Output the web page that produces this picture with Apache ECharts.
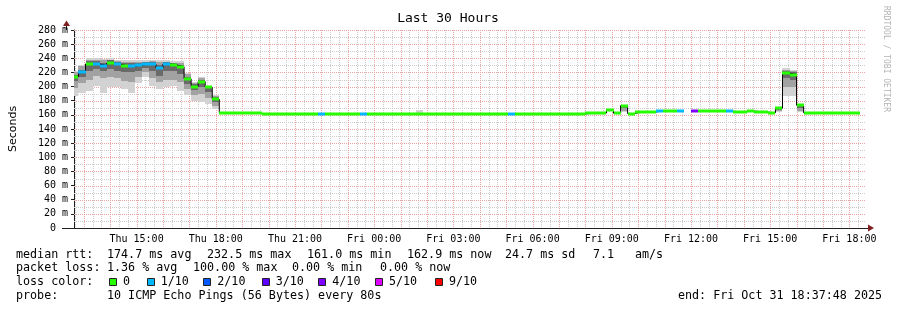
<!DOCTYPE html>
<html>
<head>
<meta charset="utf-8">
<script src="https://cdn.jsdelivr.net/npm/echarts@6/dist/echarts.min.js"></script>
<style>
html,body{margin:0;padding:0;background:#fff;}
#chart{width:897px;height:310px;}
</style>
</head>
<body>
<div id="chart"></div>
<script>
// ---- time frame (minutes since Thu 00:00) ----
const T_START = 757.8;   // Thu 12:37:48
const T_END = 2557.8;    // Fri 18:37:48
const FIRST_BOUNDARY = 768; // Thu 12:48, RRD step boundary
const STEP_MIN = 16;        // RRD step (minutes)

// ---- median rtt per step (ms) ----
const median = [
  214,220.6,232,232,229.5,233,231.5,229,229,230.5,
  232,232,226.7,232,230.5,228,211,200,207,199,
  182,163,163,163,163,163,162,161.3,161.3,161.3,
  161.3,161.3,161.3,161.3,161.3,161.3,161.3,161.3,161.3,161.3,
  161.3,161.3,161.3,161.3,161.3,161.3,161.3,161.3,161.3,161.3,
  161.3,161.3,161.3,161.3,161.3,161.3,161.3,161.3,161.3,161.3,
  161.3,161.3,161.3,161.3,161.3,161.3,161.3,161.3,161.3,161.3,
  161.3,161.3,161.3,162.2,162.2,162.6,167,162.2,173,161.8,
  164,164,164,165.5,165.3,165.3,165.3,null,165.3,165.3,
  165.3,165.3,165.3,165,164.5,164.5,165.3,164.5,163.8,163,
  169.4,219,216.8,173.5,163,163,163,163,163,163,
  163,163
];
// ---- loss index per step (0 = 0/10, 1 = 1/10, ...) ----
const loss = [
  0,1,0,1,1,0,1,0,1,1,
  1,1,1,1,0,0,0,0,0,0,
  0,0,0,0,0,0,0,0,0,0,
  0,0,0,0,0,1,0,0,0,0,
  0,1,0,0,0,0,0,0,0,0,
  0,0,0,0,0,0,0,0,0,0,
  0,0,1,0,0,0,0,0,0,0,
  0,0,0,0,0,0,0,0,0,0,
  0,0,0,1,0,0,1,null,4,0,
  0,0,0,1,0,0,0,0,0,0,
  0,0,0,0,0,0,0,0,0,0,
  0,0
];
// ---- smoke (ping spread) for the steps where it is visible ----
const smokeIdx    = [0,1,2,3,4,5,6,7,8,9,10,11,12,13,14,15,16,17,18,19,20,49,78,98,100,101,102,103];
const smokeMin    = [186,190.5,194,201,191,200,199,196,190.5,205.5,214,200.8,196,199,200.8,194,188,180,178,175,168,161,163.6,163.5,164.5,186.7,186.7,164.5];
const smokeMax    = [222,231,240,240,239,240,238,237,237,237,237,238,238,237,236,236,219.6,207,214,201,188,167,174,166,170.5,225.8,223.4,176];
const smokeLo     = [198,205,210,215,212,213,212,208,207,214,220,212,206,210,210,206,196,188,190,184,172,null,166,null,165.5,200,200,166];
const smokeHi     = [221,229,238,238,237,238,236,235,235,235,235,236,235,235,234,234,218,205,212,200,187,null,173.5,null,170,224,222,175.5];
const smokeDarkLo = [208,214,222,225,222,225,222,220,220,222,226,222,215,222,222,218,204,195,200,192,178,null,170,null,167,212,210,170];
const smokeDarkHi = [217,224,236,236,234,237,235,233,233,234,235,235,231,235,233,231,214,203,210,200,185,null,173.5,null,170,222,220,175];

// ---- axes ----
const labelHours = [15,18,21,24,27,30,33,36,39,42]; // Thu 15:00 ... Fri 18:00
const GRID_MINOR_MIN = 20;  // vertical minor grid every 20 minutes
const GRID_MAJOR_MIN = 60;  // vertical major grid every hour
const Y_MINOR = 10, Y_MAJOR = 20, Y_MAX = 280;

const lossColors = {0:'#26ff00',1:'#00b8ff',2:'#0059ff',3:'#5e00ff',4:'#7e00ff',5:'#dd00ff',9:'#ff0000'};
const lossLegend = [[0,'0'],[1,'1/10'],[2,'2/10'],[3,'3/10'],[4,'4/10'],[5,'5/10'],[9,'9/10']];

const statsRow1 = [['median rtt:',16],['174.7 ms avg',107],['232.5 ms max',207],['161.0 ms min',307],['162.9 ms now',407],['24.7 ms sd',505],['7.1',593],['am/s',635]];
const statsRow2 = [['packet loss:',16],['1.36 % avg',107],['100.00 % max',193],['0.00 % min',292],['0.00 % now',380]];
const probeText = '10 ICMP Echo Pings (56 Bytes) every 80s';
const endText = 'end: Fri Oct 31 18:37:48 2025';

// ---- build series data ----
function stepStart(i){ return i === 0 ? T_START : FIRST_BOUNDARY + STEP_MIN*(i-1); }
function stepEnd(i){ return FIRST_BOUNDARY + STEP_MIN*i; }

const medianBars = [];
const medianLine = [];
median.forEach((v,i)=>{
  medianLine.push([stepStart(i), v]);
  if (v != null) medianBars.push([stepStart(i), stepEnd(i), v, loss[i]]);
});
medianLine.push([stepEnd(median.length-1), median[median.length-1]]);

const smokeData = smokeIdx.map((i,k)=>[stepStart(i), stepEnd(i),
  smokeMin[k], smokeMax[k],
  smokeLo[k]==null?NaN:smokeLo[k], smokeHi[k]==null?NaN:smokeHi[k],
  smokeDarkLo[k]==null?NaN:smokeDarkLo[k], smokeDarkHi[k]==null?NaN:smokeDarkHi[k]]);

// grid line positions (axis ticks)
const vMinor = [], vMajor = [];
for (let t = Math.ceil(T_START/GRID_MINOR_MIN)*GRID_MINOR_MIN; t < T_END; t += GRID_MINOR_MIN)
  (t % GRID_MAJOR_MIN === 0 ? vMajor : vMinor).push([t, 0]);
const hMinor = [], hMajor = [];
for (let v = Y_MINOR; v <= Y_MAX; v += Y_MINOR)
  (v % Y_MAJOR === 0 ? hMajor : hMinor).push([T_START, v]);

const MONO = 'DejaVu Sans Mono';
const GRID_MINOR = '#cdcdcd';
const GRID_MAJOR = '#e9a3a3';
const LEG_FONT = '11.7px "'+MONO+'"';

function hourLabel(v){
  const r = Math.round(v);
  const day = r >= 24 ? 'Fri' : 'Thu';
  const h = r % 24;
  return day + ' ' + (h<10?'0':'') + h + ':00';
}

const chart = echarts.init(document.getElementById('chart'), null, {renderer:'canvas'});

const textEls = [];
function addText(t,x,y){
  textEls.push({type:'text', x:x, y:y, silent:true,
    style:{text:t, fill:'#000', font:LEG_FONT, verticalAlign:'middle', align:'left'}});
}
statsRow1.forEach(([t,x])=>addText(t,x,254.5));
statsRow2.forEach(([t,x])=>addText(t,x,268.3));
addText('loss color:',16,282.3);
const legendX = [109,146.7,203.3,261.7,318.3,375,435];
lossLegend.forEach(([k,lab],j)=>{
  textEls.push({type:'rect', silent:true, shape:{x:Math.round(legendX[j])+0.5,y:278.5,width:7,height:7},
    style:{fill:lossColors[k], stroke:'#222', lineWidth:1}});
  addText(lab, legendX[j]+14, 282.3);
});
addText('probe:',16,296);
addText(probeText,107,296);
addText(endText,678,296);
textEls.push({type:'text', x:448, y:19, silent:true,
  style:{text:'Last 30 Hours', fill:'#000', font:'13px "'+MONO+'"', align:'center', verticalAlign:'middle'}});
textEls.push({type:'text', x:886, y:59, rotation:-Math.PI/2, silent:true,
  style:{text:'RRDTOOL / TOBI OETIKER', fill:'#b4b4b4', font:'8px "'+MONO+'"', align:'center', verticalAlign:'middle'}});
// axis arrows
textEls.push({type:'polygon', silent:true, shape:{points:[[63,26],[70,26],[66.5,20.5]]}, style:{fill:'#801f1f'}});
textEls.push({type:'line', silent:true, shape:{x1:66.5,y1:26,x2:66.5,y2:30}, style:{stroke:'#1f1f1f',lineWidth:1}});
textEls.push({type:'polygon', silent:true, shape:{points:[[868,224.5],[868,231.5],[874,228]]}, style:{fill:'#801f1f'}});
textEls.push({type:'line', silent:true, shape:{x1:62,y1:228.5,x2:868,y2:228.5}, style:{stroke:'#1f1f1f',lineWidth:1}});

function gridSeries(data, vertical, color){
  return { type:'custom', data:data, z:1, silent:true, encode:{x:0,y:1},
    renderItem:function(params, api){
      const cs = params.coordSys;
      const p = api.coord([api.value(0), api.value(1)]);
      let shape;
      if (vertical) { const x = Math.round(p[0]) + 0.5; shape = {x1:x, y1:cs.y, x2:x, y2:cs.y+cs.height}; }
      else { const y = Math.round(p[1]) + 0.5; shape = {x1:cs.x, y1:y, x2:cs.x+cs.width, y2:y}; }
      return {type:'line', shape:shape, style:{stroke:color, lineWidth:1, lineDash:[1,1]}};
    }
  };
}

const option = {
  animation:false,
  backgroundColor:'#ffffff',
  grid:{left:66,right:31,top:30,bottom:82,containLabel:false},
  xAxis:[
    { type:'value', min:T_START, max:T_END, position:'bottom',
      axisLine:{show:false}, axisTick:{show:false}, splitLine:{show:false},
      axisLabel:{show:true, customValues:labelHours.map(h=>h*60),
        formatter:v=>hourLabel(v/60), margin:6, fontFamily:MONO, fontSize:10, color:'#000'} }
  ],
  yAxis:{ type:'value', min:0, max:Y_MAX, interval:Y_MAJOR,
    name:'Seconds', nameLocation:'middle', nameGap:55, nameRotate:90,
    nameTextStyle:{fontFamily:'DejaVu Sans', fontSize:11, color:'#000'},
    axisLine:{show:true, lineStyle:{color:'#1f1f1f', width:1}},
    axisTick:{show:true, length:3, lineStyle:{color:'#1f1f1f'}},
    axisLabel:{show:true, margin:6, fontFamily:MONO, fontSize:10, color:'#000',
      formatter:v => v === 0 ? '0  ' : v + ' m'},
    splitLine:{show:false}
  },
  series:[
    gridSeries(vMinor, true, GRID_MINOR),
    gridSeries(hMinor, false, GRID_MINOR),
    gridSeries(vMajor, true, GRID_MAJOR),
    gridSeries(hMajor, false, GRID_MAJOR),
    { type:'custom', name:'smoke', data:smokeData, z:2, clip:true,
      encode:{x:[0,1], y:[2,3]},
      renderItem:function(params, api){
        const t0 = api.value(0), t1 = api.value(1);
        const bands = [[2,3,'#d2d2d2'],[4,5,'#a2a2a2'],[6,7,'#6a6a6a']];
        const children = [];
        bands.forEach(([a,b,c])=>{
          const va = api.value(a), vb = api.value(b);
          if (isNaN(va) || isNaN(vb)) return;
          const p0 = api.coord([t0, vb]); const p1 = api.coord([t1, va]);
          const x0 = Math.round(p0[0]), x1 = Math.round(p1[0]);
          const y0 = Math.round(p0[1]), y1 = Math.round(p1[1]);
          children.push({type:'rect', shape:{x:x0, y:y0, width:x1-x0, height:Math.max(1,y1-y0)}, style:{fill:c}});
        });
        return {type:'group', children:children};
      }
    },
    { type:'line', name:'median', data:medianLine, step:'end', z:3,
      showSymbol:false, symbol:'none', connectNulls:false,
      lineStyle:{color:'#000', width:1} },
    { type:'custom', name:'loss', data:medianBars, z:4, clip:true,
      encode:{x:[0,1], y:2},
      renderItem:function(params, api){
        const p0 = api.coord([api.value(0), api.value(2)]);
        const p1 = api.coord([api.value(1), api.value(2)]);
        const x0 = Math.round(p0[0]), x1 = Math.round(p1[0]);
        const y = Math.round(p0[1]) - 1.5;
        return {type:'rect', shape:{x:x0, y:y, width:x1-x0, height:3},
          style:{fill:lossColors[api.value(3)]}};
      }
    }
  ],
  graphic:textEls
};
chart.setOption(option);
</script>
</body>
</html>
